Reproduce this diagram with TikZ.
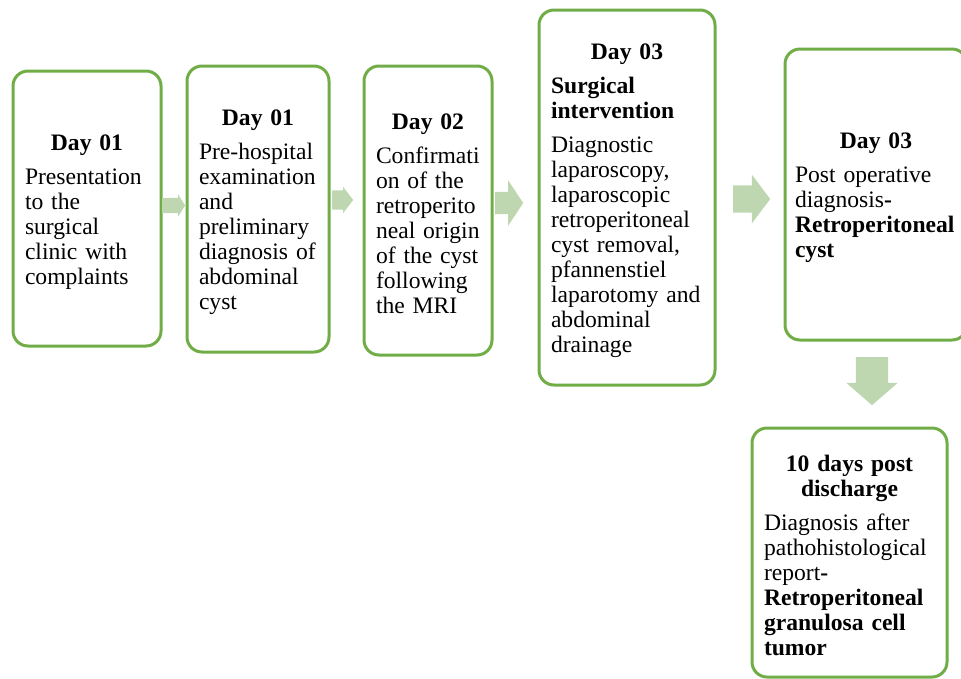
\documentclass[tikz,border=0pt]{standalone}
\usepackage{fontspec}
\setmainfont{Liberation Serif}
\usepackage{tikz}
\usetikzlibrary{shapes.arrows}
\definecolor{boxgreen}{RGB}{112,173,71}
\definecolor{flowgreen}{RGB}{190,215,177}
\newcommand{\daytitle}[1]{{\centering\bfseries\rule{0pt}{23pt}#1\par}\vspace{9pt}}

\begin{document}
\begin{tikzpicture}[x=1pt,y=-1pt]
  \tikzstyle{day}=[draw=boxgreen,line width=3pt,rounded corners=15pt,fill=white,align=left,inner xsep=12pt,font=\fontsize{23.6}{25}\selectfont]
  \tikzstyle{flow}=[single arrow,fill=flowgreen,draw=none,inner xsep=0pt,anchor=tail]

  \useasboundingbox (0,0) rectangle (961,678);

  % timeline boxes
  \node[day,minimum width=148pt,minimum height=275pt,text width=124pt] (d1) at (87,208.5)
    {\daytitle{Day 01}Presentation\\to the\\surgical\\clinic with\\complaints};
  \node[day,minimum width=142pt,minimum height=286pt,text width=118pt] (d2) at (258,209)
    {\daytitle{Day 01}Pre-hospital\\examination\\and\\preliminary\\diagnosis of\\abdominal\\cyst};
  \node[day,minimum width=128pt,minimum height=289pt,text width=104pt] (d3) at (428,210.5)
    {\daytitle{Day 02}Confirmati\\on of the\\retroperito\\neal origin\\of the cyst\\following\\the MRI};
  \node[day,minimum width=176pt,minimum height=375pt,text width=152pt] (d4) at (627,197.5)
    {\daytitle{Day 03}\textbf{Surgical\\intervention}\par\vspace{9pt}Diagnostic\\laparoscopy,\\laparoscopic\\retroperitoneal\\cyst removal,\\pfannenstiel\\laparotomy and\\abdominal\\drainage};
  \node[day,minimum width=182pt,minimum height=291pt,text width=162pt,inner xsep=10pt] (d5) at (876,194.5)
    {\daytitle{Day 03}Post operative\\diagnosis\textbf{-}\\\textbf{Retroperitoneal}\\\textbf{cyst}};
  \node[day,minimum width=195pt,minimum height=249pt,text width=171pt] (d6) at (849.5,552.5)
    {\daytitle{10 days post\\discharge}Diagnosis after\\pathohistological\\report\textbf{-}\\\textbf{Retroperitoneal}\\\textbf{granulosa cell}\\\textbf{tumor}};

  % block arrows
  \node[flow,minimum height=23pt,inner ysep=7.5pt,single arrow head extend=3.5pt,single arrow tip angle=115] (f1) at (162,205.5) {};
  \node[flow,minimum height=21pt,inner ysep=9.5pt,single arrow head extend=3.5pt,single arrow tip angle=105] (f2) at (332,200) {};
  \node[flow,minimum height=28pt,inner ysep=11pt,single arrow head extend=11.5pt,single arrow tip angle=113] (f3) at (495,203) {};
  \node[flow,minimum height=37pt,inner ysep=13.5pt,single arrow head extend=10.5pt,single arrow tip angle=106] (f4) at (733,199) {};
  \node[flow,minimum height=48pt,inner ysep=16pt,single arrow head extend=9.5pt,single arrow tip angle=98,rotate=-90] (f5) at (872,357) {};
\end{tikzpicture}
\end{document}
